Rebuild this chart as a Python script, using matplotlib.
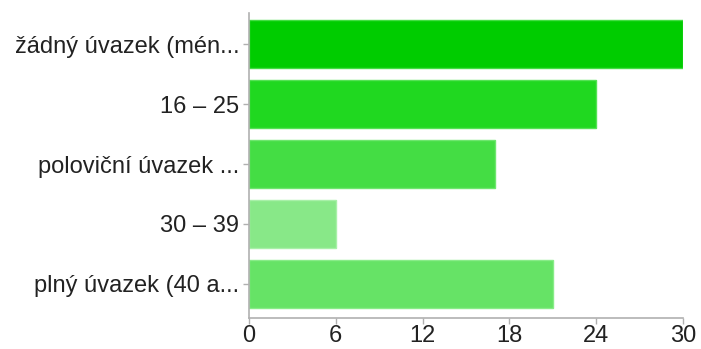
import matplotlib.pyplot as plt

# Working hours categories and response counts
categories = ["žádný úvazek (mén...", "16 – 25", "poloviční úvazek ...", "30 – 39", "plný úvazek (40 a..."]
counts = [30, 24, 17, 6, 21]
bar_colors = ["#00cc00", "#20d820", "#44dd44", "#88e888", "#66e366"]
edge_colors = ["#44dd44", "#55e255", "#6ee66e", "#a8f0a8", "#88ec88"]
x_ticks = [0, 6, 12, 18, 24, 30]

plt.rcParams['font.family'] = ['Liberation Sans', 'DejaVu Sans']

fig = plt.figure(figsize=(7.01, 3.49), dpi=100)
ax = fig.add_axes([249 / 701, 1 - 318 / 349, (683 - 249) / 701, (318 - 13) / 349])

ypos = list(range(len(categories)))
ax.barh(ypos, counts, height=0.8, color=bar_colors, edgecolor=edge_colors, linewidth=1.0)

ax.set_xlim(0, 30)
ax.set_ylim(4.567, -0.517)
ax.set_xticks(x_ticks)
ax.set_xticklabels([str(t) for t in x_ticks])
ax.set_yticks(ypos)
ax.set_yticklabels(categories)

for side in ("top", "right"):
    ax.spines[side].set_visible(False)
for side in ("left", "bottom"):
    ax.spines[side].set_color("#b0b0b0")
    ax.spines[side].set_linewidth(1.2)

ax.tick_params(axis="both", colors="#b0b0b0", labelcolor="#222222",
               labelsize=17, length=4, width=1.0)
ax.tick_params(axis="x", pad=1)
ax.tick_params(axis="y", pad=3)

fig.savefig("out.png", dpi=100)
